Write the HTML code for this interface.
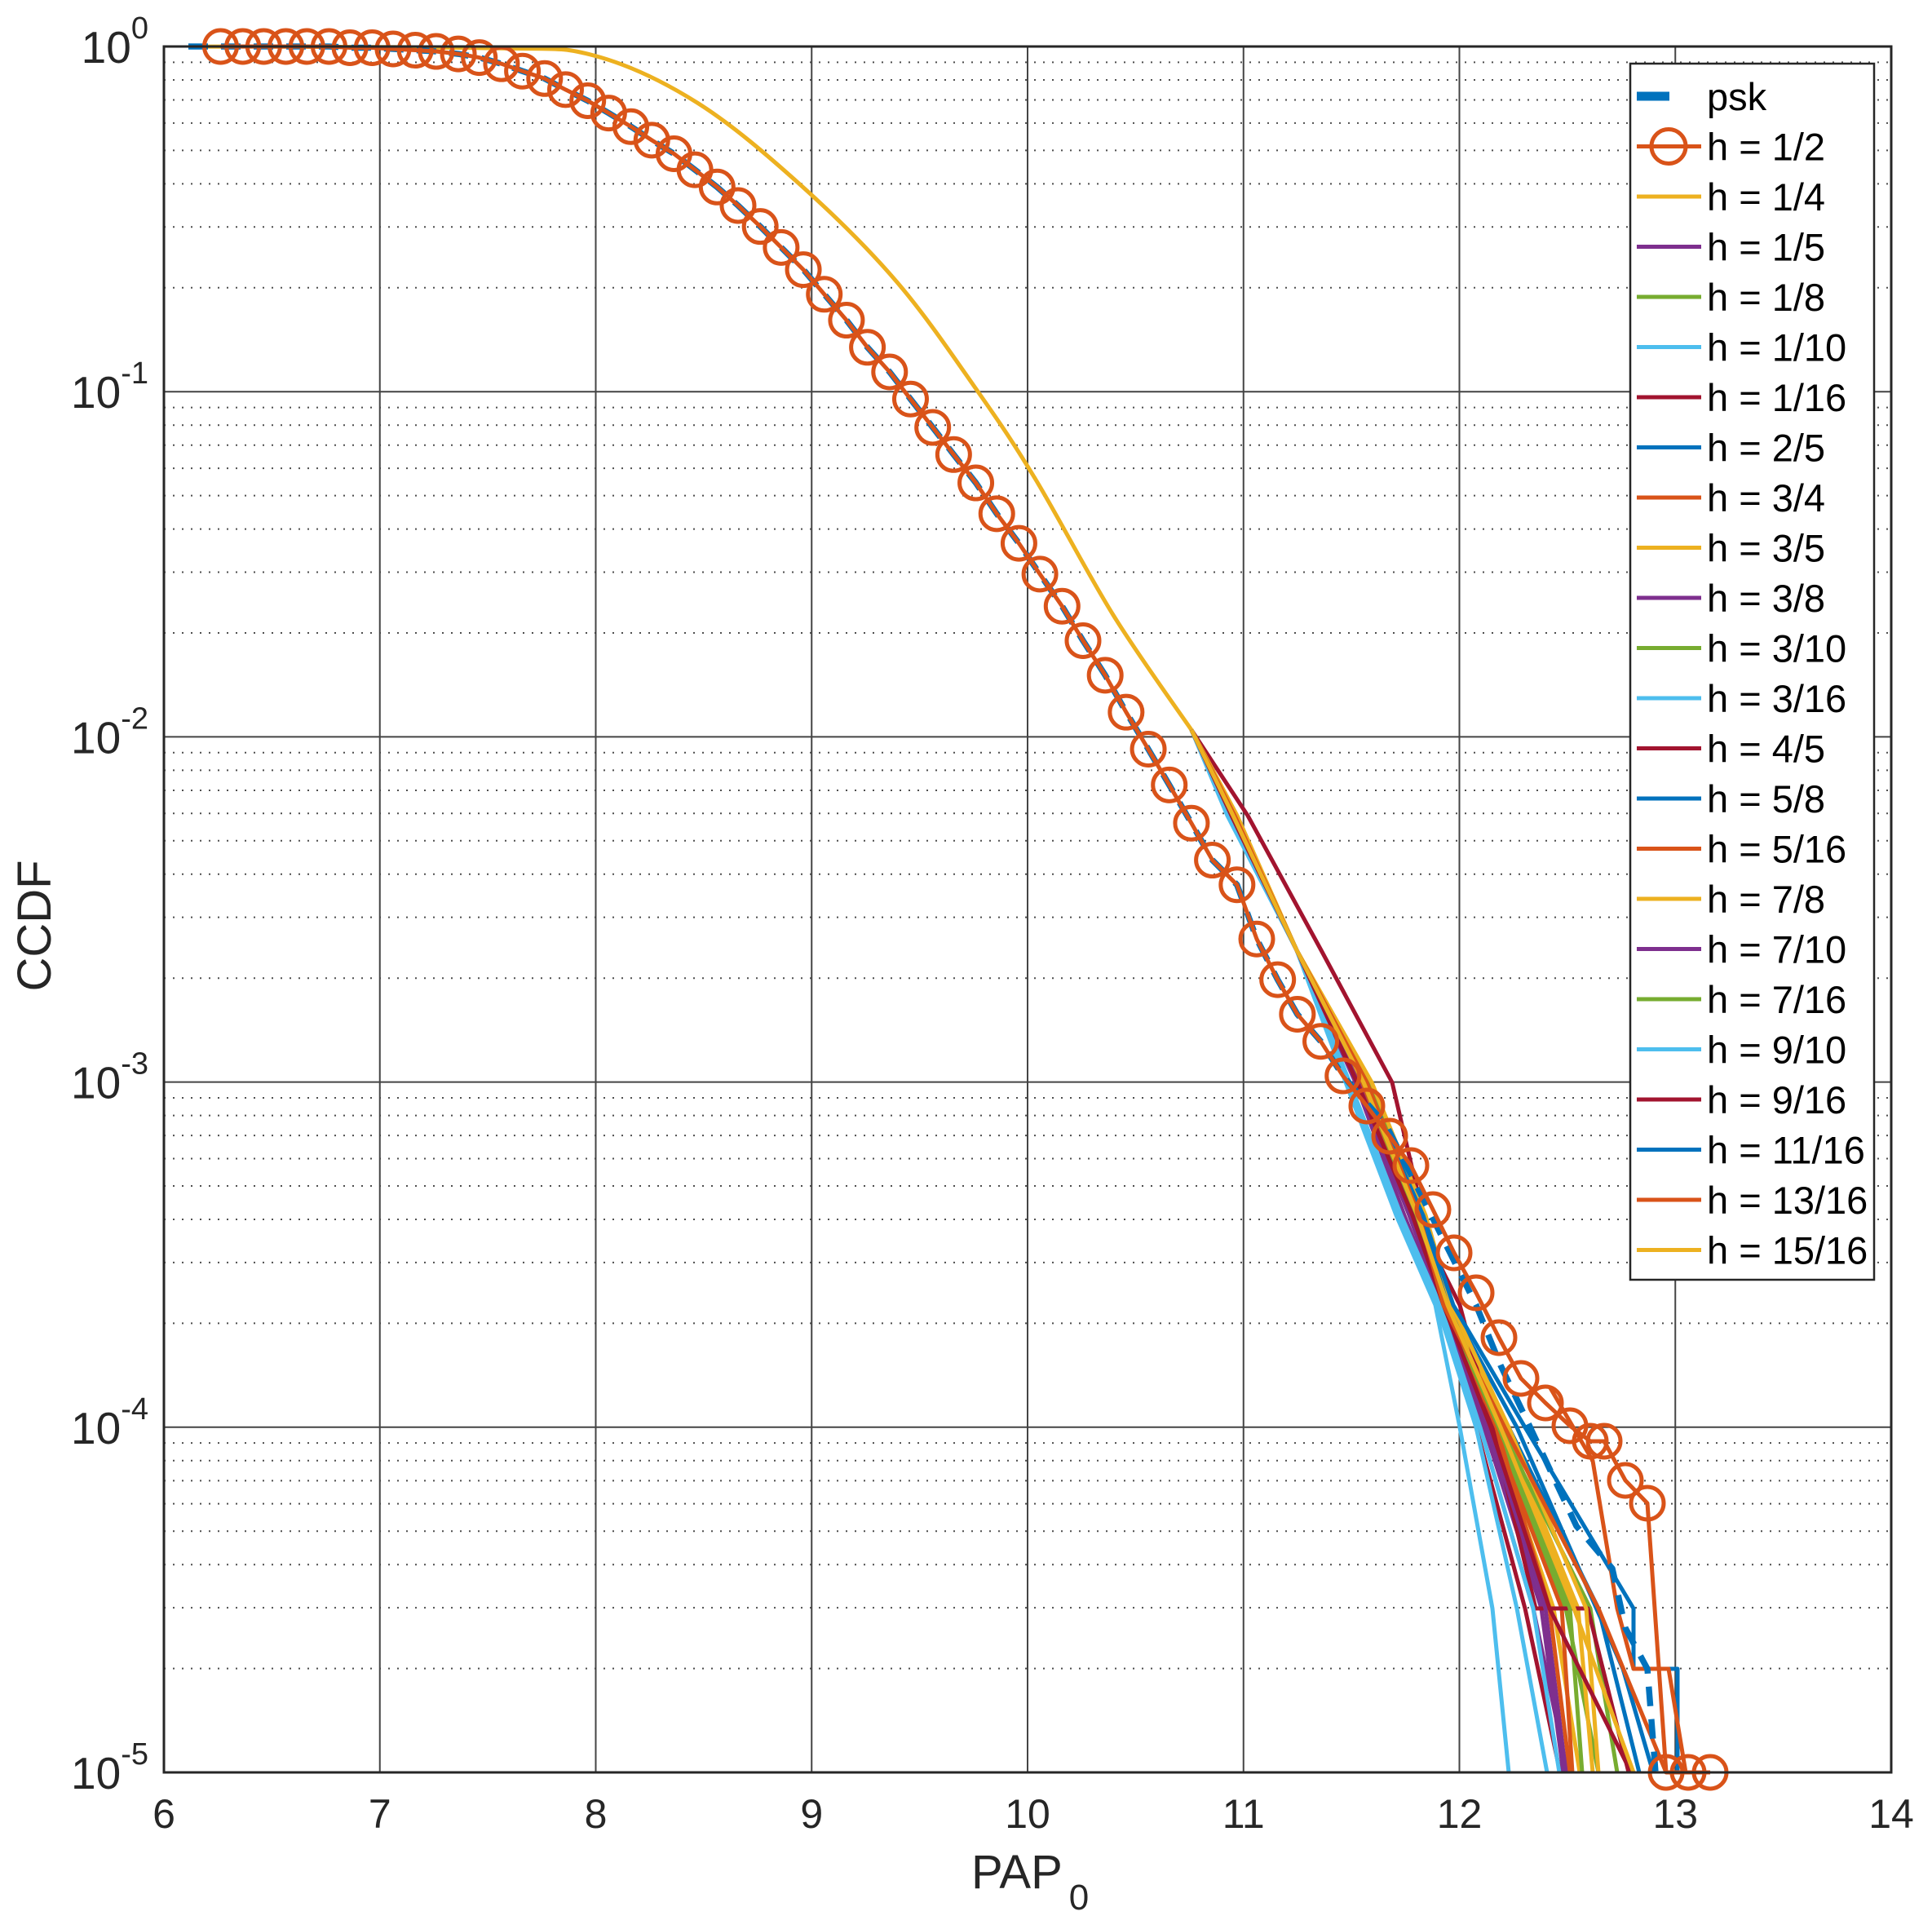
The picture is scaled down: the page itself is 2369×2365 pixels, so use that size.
<!DOCTYPE html>
<html><head><meta charset="utf-8"><style>
html,body{margin:0;padding:0;background:#fff;}
svg{display:block;font-family:"Liberation Sans",Arial,sans-serif;}
</style></head><body>
<svg id="s" width="2369" height="2365" viewBox="0 0 2369 2365" xmlns="http://www.w3.org/2000/svg">
<rect width="2369" height="2365" fill="#fff"/>
<g id="grid"></g>
<g id="curves"></g>
<g id="axes"></g>
<g id="legend"></g>
</svg>
<script>
const NS="http://www.w3.org/2000/svg";
const L=201,R=2319,T=57,B=2173;
const X=v=>L+(v-6)*(R-L)/8;
const Yl=p=>T+(-Math.log10(p))*(B-T)/5;
const dx=x=>L+(x-133)*(R-L)/1402, dy=y=>T+(y-38)*(B-T)/1400;
function el(tag,attrs,parent,text){const e=document.createElementNS(NS,tag);for(const k in attrs)e.setAttribute(k,attrs[k]);if(text!=null)e.textContent=text;parent.appendChild(e);return e;}
const grid=document.getElementById('grid'),axes=document.getElementById('axes'),cur=document.getElementById('curves'),leg=document.getElementById('legend');
for(let d=0;d<5;d++)for(let m=2;m<=9;m++){const y=Yl(m*Math.pow(10,-d-1));el('line',{x1:L,x2:R,y1:y,y2:y,stroke:'#222','stroke-width':2,'stroke-dasharray':'2 9',opacity:0.8},grid);}
for(let i=1;i<8;i++){const x=X(6+i);el('line',{x1:x,x2:x,y1:T,y2:B,stroke:'#444','stroke-width':2},grid);}
for(let d=1;d<5;d++){const y=Yl(Math.pow(10,-d));el('line',{x1:L,x2:R,y1:y,y2:y,stroke:'#444','stroke-width':2},grid);}
el('rect',{x:L,y:T,width:R-L,height:B-T,fill:'none',stroke:'#262626','stroke-width':3},axes);
for(let i=0;i<=8;i++)el('text',{x:X(6+i),y:2241,'font-size':50,'text-anchor':'middle',fill:'#262626'},axes,String(6+i));
for(let d=0;d<=5;d++){const y=Yl(Math.pow(10,-d));const t=el('text',{x:182,y:y+20,'font-size':55,'text-anchor':'end',fill:'#262626'},axes);
 el('tspan',{},t,'10');el('tspan',{dy:-30,'font-size':38},t,d==0?'0':'-'+d);}
el('text',{x:62,y:1135,'font-size':58,'text-anchor':'middle',fill:'#262626',transform:'rotate(-90 62 1135)'},axes,'CCDF');
const pt=el('text',{x:1191,y:2315,'font-size':58,fill:'#262626'},axes);el('tspan',{},pt,'PAP');el('tspan',{dx:8,dy:26,'font-size':44},pt,'0');
const C=['#0072BD','#D95319','#EDB120','#7E2F8E','#77AC30','#4DBEEE','#A2142F'];
function smooth(p){let d='M'+p[0][0]+','+p[0][1];for(let i=0;i<p.length-1;i++){const p0=p[Math.max(0,i-1)],p1=p[i],p2=p[i+1],p3=p[Math.min(p.length-1,i+2)];
 d+=' C'+(p1[0]+(p2[0]-p0[0])/6).toFixed(1)+','+(p1[1]+(p2[1]-p0[1])/6).toFixed(1)+' '+(p2[0]-(p3[0]-p1[0])/6).toFixed(1)+','+(p2[1]-(p3[1]-p1[1])/6).toFixed(1)+' '+p2[0]+','+p2[1];}return d;}
function pathS(pts,col,w,dash){const p=el('path',{d:smooth(pts),fill:'none',stroke:col,'stroke-width':w,'stroke-linejoin':'round'},cur);if(dash)p.setAttribute('stroke-dasharray',dash);return p;}
function poly(pts,col,w,dash){const p=el('polyline',{points:pts.map(a=>a[0].toFixed(1)+','+a[1].toFixed(1)).join(' '),fill:'none',stroke:col,'stroke-width':w,'stroke-linejoin':'round'},cur);if(dash)p.setAttribute('stroke-dasharray',dash);}
const up=[[231,57],[600,59],[728,68],[855,126],[983,228],[1100,346],[1199,480],[1270,588],[1365,754],[1461,895]];
for(let k=0;k<3;k++)pathS(up,['#7E2F8E','#A2142F','#EDB120'][k],k==2?5:4);
// tails: [color, x@1000, x@1327, x@1490, x@1600, x@1750, x@1972, end]
const tails=[
 [2,1512,1668,1730,1770,1830,1905,1937],[3,1508,1662,1722,1765,1815,1880,1922],[4,1515,1675,1735,1772,1835,1920,1960],[5,1505,1650,1712,1760,1790,1830,1850],
 [6,1530,1707,1745,1768,1810,1870,1913],[0,1510,1670,1740,1775,1850,1960,2010],[1,1512,1668,1732,1770,1830,1915,1928],[2,1514,1676,1742,1778,1845,1935,1953],
 [3,1509,1664,1728,1768,1820,1890,1917],[4,1516,1680,1745,1775,1840,1950,1983],[5,1506,1652,1715,1762,1810,1860,1897],[6,1511,1666,1735,1790,1830,1890,1997],
 [0,1513,1674,1742,1778,1860,1990,2027],[1,1510,1668,1732,1772,1835,1900,1925],[2,1517,1682,1748,1780,1850,1945,1960],[3,1509,1665,1730,1770,1825,1895,1920],
 [4,1513,1672,1736,1772,1838,1925,1940],[5,1507,1655,1718,1766,1815,1880,1912],[6,1510,1664,1732,1770,1828,1900,2000],[0,1512,1672,1745,1782,1870,2003,2057],
 [1,1514,1676,1740,1770,1845,1960,2043],[2,1512,1672,1738,1775,1840,1930,2003]];
tails.forEach((t,i)=>{const pts=[[1461,895],[t[1],1000],[1590,1165],[t[2],1327],[t[3],1490],[t[4],1600],[t[5],1750],[t[6],1972],[t[7],2173]];
 if(i==4){pts[2]=[1620,1165];}
 if(i==11){pts.splice(7,1,[1883,1972],[1947,1972]);}
 if(i==19){pts.splice(8,0,[2003,2046],[2057,2046]);pts.pop();pts.push([2057,2173]);}
 if(i==12){pts.splice(7,1,[1990,2046]);}
 poly(pts,C[t[0]],5);});
poly([[1900,1700],[1953,1791],[1983,1972],[2003,2046],[2046,2046],[2067,2173]],C[1],5);
const hcD=[[179,38],[197,38],[214,38],[232,38],[249,38],[267,38],[284,39],[302,39],[319,40],[337,41],[354,42],[372,44],[389,47],[407,52],[424,58],[442,64],[459,73],[477,82],[494,92],[512,103],[529,114],[547,125],[564,138],[582,152],[599,167],[617,184],[634,201],[652,219],[669,239],[687,260],[704,282],[722,302],[739,324],[757,347],[774,369],[792,392],[809,417],[827,441],[844,466],[862,492],[879,520],[897,548],[914,578],[932,608],[949,637],[967,668],[984,698],[1004,718],[1020,762],[1037,795],[1053,823],[1072,845],[1090,873]];
const hcR=hcD.map(a=>[dx(a[0]),dy(a[1])]);
const pskR=[[231,57]].concat(hcR.slice(3)).concat([[1700,1380],[1760,1500],[1810,1600],[1840,1674],[1873,1743],[1933,1871],[1977,1923],[1993,1996],[2020,2046],[2030,2173]]);
poly(pskR,C[0],7.5,'24 16');
const hcTail=[[1676,1356],[1704,1393],[1730,1429],[1757,1483],[1783,1536],[1810,1585],[1838,1640],[1865,1690],[1895,1720],[1925,1748],[1950,1767],[1967,1767],[1993,1815],[2020,1843],[2043,2173],[2070,2173],[2097,2173]];
const hc=hcR.concat(hcTail);
poly(hc,C[1],5);
hc.forEach(a=>el('circle',{cx:a[0],cy:a[1],r:20,fill:'none',stroke:C[1],'stroke-width':5},cur));
const labels=['psk','h = 1/2','h = 1/4','h = 1/5','h = 1/8','h = 1/10','h = 1/16','h = 2/5','h = 3/4','h = 3/5','h = 3/8','h = 3/10','h = 3/16','h = 4/5','h = 5/8','h = 5/16','h = 7/8','h = 7/10','h = 7/16','h = 9/10','h = 9/16','h = 11/16','h = 13/16','h = 15/16'];
el('rect',{x:1999,y:78,width:299,height:1491,fill:'#fff',stroke:'#262626','stroke-width':2.5},leg);
labels.forEach((t,i)=>{const y=118+i*61.5;const col=i==0?C[0]:C[i%7];
 if(i==0)el('line',{x1:2007,x2:2047,y1:y,y2:y,stroke:col,'stroke-width':11},leg);
 else el('line',{x1:2007,x2:2086,y1:y,y2:y,stroke:col,'stroke-width':5},leg);
 if(i==1)el('circle',{cx:2046,cy:y,r:21,fill:'none',stroke:col,'stroke-width':5},leg);
 el('text',{x:2093,y:y+17,'font-size':47,fill:'#000'},leg,t);});
</script>
</body></html>
